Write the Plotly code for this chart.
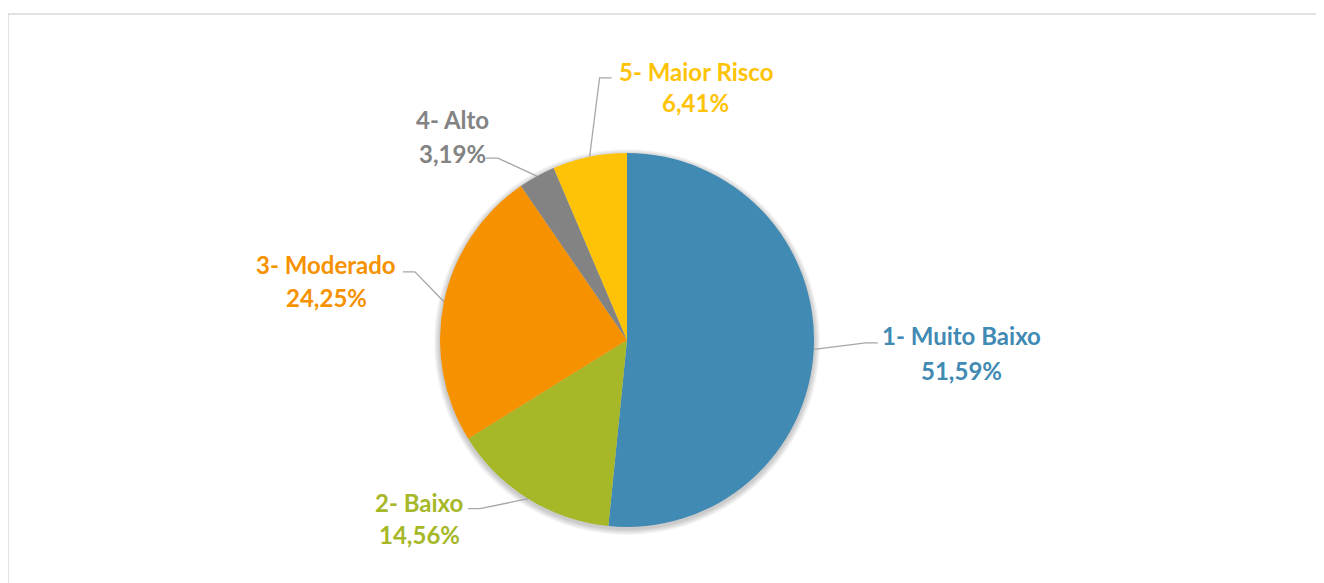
import math

import plotly.graph_objects as go

# Data
categories = ["1- Muito Baixo", "2- Baixo", "3- Moderado", "4- Alto", "5- Maior Risco"]
percent_values = [51.59, 14.56, 24.25, 3.19, 6.41]
percent_labels = ["51,59%", "14,56%", "24,25%", "3,19%", "6,41%"]

# Styles
slice_colors = ["#418AB3", "#A6B727", "#F69200", "#838383", "#FEC306"]
leader_color = "#A6A6A6"
font_family = "Lato, 'Open Sans', sans-serif"
font_size = 24

W, H = 1324, 583
PAGE_OFF = 8  # body margin of the html page
cx, cy, r = 627, 340, 187  # in page pixels

# leader line end relative to slice edge point, horizontal tail direction
leader_offsets = [(64, -6.5, 1), (-60, 10, -1), (-41, -30, -1), (-51, -18, -1), (22, -79, 1)]
# label (first line) centre relative to leader end, gap to second line
label_offsets = [(84, -7.5, 35), (-49, -6, 32), (-76.5, -7.5, 33), (-33, -39, 34), (84, -6, 31)]
tail_len = 12

fig = go.Figure()

# soft shadow behind the pie
for i in range(6, 0, -1):
    fig.add_shape(
        type="circle", xref="x", yref="y",
        x0=cx - r - i, x1=cx + r + i, y0=cy - r - i + 2, y1=cy + r + i + 2,
        line_width=0, fillcolor="rgba(0,0,0,0.035)", layer="below",
    )

fig.add_trace(
    go.Pie(
        labels=categories,
        values=percent_values,
        sort=False,
        direction="clockwise",
        rotation=0,
        marker=dict(colors=slice_colors, line=dict(width=0)),
        textinfo="none",
        hoverinfo="label+percent",
        showlegend=False,
        domain=dict(
            x=[(cx - r - PAGE_OFF) / W, (cx + r - PAGE_OFF) / W],
            y=[1 - (cy + r - PAGE_OFF) / H, 1 - (cy - r - PAGE_OFF) / H],
        ),
    )
)

total = sum(percent_values)
cum = 0.0
for i, val in enumerate(percent_values):
    mid = (cum + val / 2) / total * 2 * math.pi
    cum += val
    ex = cx + r * math.sin(mid)
    ey = cy - r * math.cos(mid)
    dx, dy, side = leader_offsets[i]
    endx, endy = ex + dx, ey + dy
    elbx = endx - side * tail_len
    fig.add_trace(
        go.Scatter(
            x=[ex, elbx, endx], y=[ey, endy, endy],
            mode="lines", line=dict(color=leader_color, width=1.3),
            hoverinfo="skip", showlegend=False,
        )
    )
    lx, ly, gap = label_offsets[i]
    for text, yy in [(categories[i], endy + ly), (percent_labels[i], endy + ly + gap)]:
        fig.add_annotation(
            x=endx + lx, y=yy, xref="x", yref="y",
            text=f"<b>{text}</b>", showarrow=False,
            xanchor="center", yanchor="middle",
            font=dict(family=font_family, size=font_size, color=slice_colors[i]),
        )

# chart area border
fig.add_shape(
    type="rect", xref="x", yref="y",
    x0=8, x1=W + 40, y0=14, y1=H + 40,
    line=dict(color="#D9D9D9", width=1.5), fillcolor="rgba(0,0,0,0)", layer="below",
)

fig.update_layout(
    width=W, height=H,
    margin=dict(l=0, r=0, t=0, b=0),
    paper_bgcolor="white", plot_bgcolor="rgba(0,0,0,0)",
    xaxis=dict(range=[PAGE_OFF, W + PAGE_OFF], visible=False, fixedrange=True),
    yaxis=dict(range=[H + PAGE_OFF, PAGE_OFF], visible=False, fixedrange=True),
)

fig.write_html("out.html")
